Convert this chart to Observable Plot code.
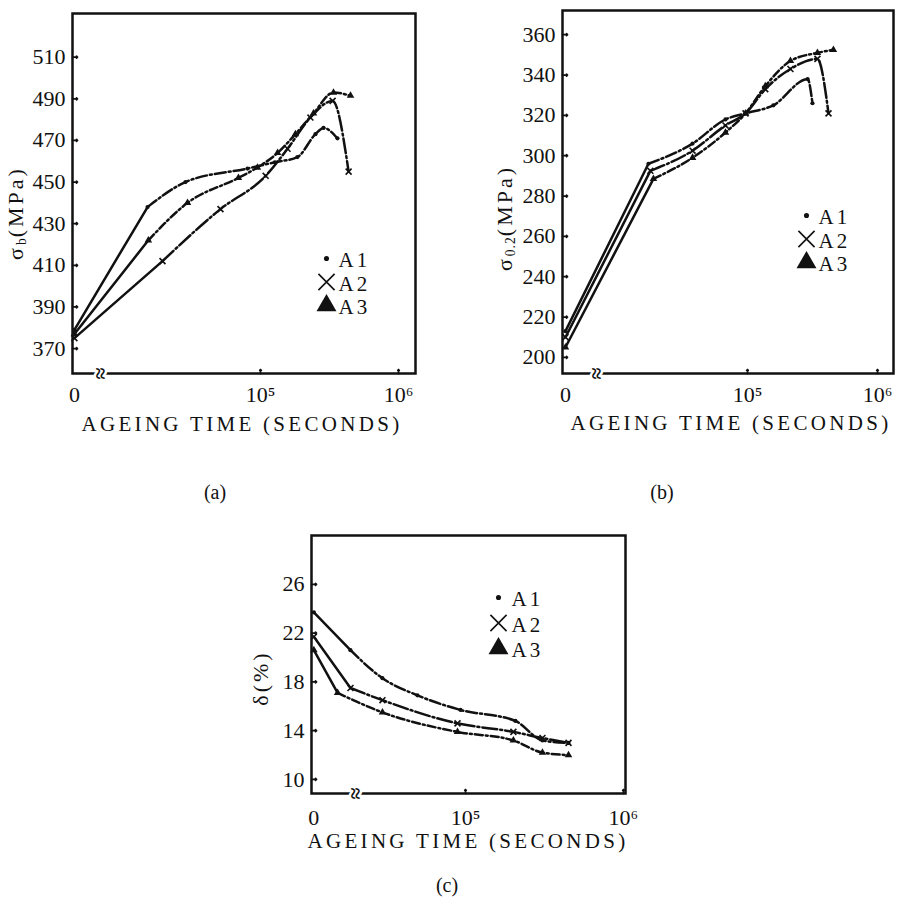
<!DOCTYPE html>
<html><head><meta charset="utf-8">
<script src="https://cdn.jsdelivr.net/npm/d3@7"></script>
<script src="https://cdn.jsdelivr.net/npm/@observablehq/plot@0.6"></script>
<style>
body{margin:0;background:#fff;}
#root{position:relative;width:897px;height:907px;background:#fff;font-family:"Liberation Serif","DejaVu Serif",serif;color:#111;overflow:hidden;}
#root svg text{font-family:"Liberation Serif","DejaVu Serif",serif !important;}
.panel{position:absolute;}
.cap{position:absolute;font-size:20px;transform:translate(-50%,-50%);white-space:nowrap;line-height:1;}
.xt{position:absolute;font-size:21px;letter-spacing:3.3px;transform:translate(-50%,-50%);white-space:nowrap;line-height:1;}
.yt{position:absolute;font-size:22px;letter-spacing:3px;transform:translate(-50%,-50%) rotate(-90deg);white-space:nowrap;line-height:1;}
.yt sub{font-size:0.62em;vertical-align:-0.25em;line-height:0;letter-spacing:1px;}
</style></head><body><div id="root"></div>
<script>
const series = ["A1", "A2", "A3"];
const legendLabels = ["A1", "A2", "A3"];
const xTickLabels = ["0", "10\u2075", "10\u2076"];
const xTitle = "AGEING TIME (SECONDS)";
const captions = ["(a)", "(b)", "(c)"];

// (a) ultimate tensile strength, MPa  (times in seconds)
const timeA1_a = [0, 15200, 28600, 80500, 127000, 185000, 250000, 286000, 361000];
const sigmaB_A1 = [379, 438, 450, 456.5, 459.5, 462, 473, 476, 471];
const timeA2_a = [0, 19500, 51300, 109000, 157000, 230000, 333000, 435000];
const sigmaB_A2 = [375, 412, 437, 453, 466, 481, 489, 455];
const timeA3_a = [0, 15400, 29600, 69200, 95000, 133000, 179000, 242000, 338000, 449000];
const sigmaB_A3 = [377, 422, 440, 452, 457, 464, 473, 483, 493, 491.5];
const yTicks_a = [370, 390, 410, 430, 450, 470, 490, 510];

// (b) yield strength, MPa
const timeA1_b = [0, 17300, 37800, 67700, 96600, 158000, 290000, 316000];
const sigma02_A1 = [213, 296, 306, 318, 321, 325, 338, 326];
const timeA2_b = [0, 17900, 37800, 67700, 96600, 137000, 214000, 345000, 420000];
const sigma02_A2 = [210, 292.5, 302.5, 315, 321, 333, 343, 348, 321];
const timeA3_b = [0, 18900, 37800, 67700, 96600, 137000, 214000, 345000, 458000];
const sigma02_A3 = [205, 288.5, 299, 311.5, 321, 334.5, 347, 351, 352.5];
const yTicks_b = [200, 220, 240, 260, 280, 300, 320, 340, 360];

// (c) elongation, %
const timeA1_c = [0, 18700, 29800, 49600, 93000, 207000, 307000, 449000];
const delta_A1 = [23.7, 20.6, 18.3, 16.9, 15.7, 14.8, 13.2, 13.0];
const timeA2_c = [0, 18700, 29800, 89000, 201000, 307000, 449000];
const delta_A2 = [21.7, 17.5, 16.5, 14.6, 13.9, 13.4, 13.0];
const timeA3_c = [0, 15500, 29800, 89000, 201000, 307000, 449000];
const delta_A3 = [20.6, 17.1, 15.5, 13.9, 13.2, 12.2, 12.0];
const yTicks_c = [10, 14, 18, 22, 26];

const INK = "#111";
const FONT = '"Liberation Serif","DejaVu Serif",serif';
const dashes = {A1: "11,3,2,3", A2: "15,3,2,3", A3: "8,3,2,3"};

function markerMarks(data, s, r, extra) {
  if (s === "A1") return Plot.dot(data, {...extra, symbol: "circle", r: r * 0.75, fill: INK, stroke: null});
  if (s === "A2") return Plot.dot(data, {...extra, symbol: "times", r: r, stroke: INK, strokeWidth: 1.6, fill: null});
  return Plot.dot(data, {...extra, symbol: "triangle", r: r, fill: INK, stroke: null});
}

function makePanel(cfg) {
  const rows = [];
  cfg.lines.forEach(([s, ts, vs]) => ts.forEach((t, i) =>
    rows.push({s, i, x: t === 0 ? cfg.zero : Math.log10(t), v: vs[i]})));
  const marks = [];
  marks.push(Plot.vector(cfg.yTicks, {y: d => d, frameAnchor: "left", rotate: 90, length: 5, anchor: "start", stroke: INK, strokeWidth: 1.7}));
  marks.push(Plot.vector([5, 6], {x: d => d, frameAnchor: "bottom", rotate: 0, length: 4, anchor: "start", stroke: INK, strokeWidth: 1.7}));
  marks.push(Plot.frame({stroke: INK, strokeWidth: 2.5}));
  marks.push(Plot.text([cfg.brk], {x: d => d, frameAnchor: "bottom", text: () => "\u2248", rotate: 90, fontSize: 22, fontWeight: "bold", fill: INK, stroke: "white", strokeWidth: 5, paintOrder: "stroke"}));
  marks.push(Plot.axisX({ticks: [cfg.zero, 5, 6], tickSize: 0, tickPadding: cfg.xPad, fontSize: 22, label: null,
    tickFormat: d => d === 5 ? xTickLabels[1] : d === 6 ? xTickLabels[2] : xTickLabels[0]}));
  marks.push(Plot.axisY({ticks: cfg.yTicks, tickSize: 0, tickPadding: 7, fontSize: 22, label: null}));
  for (const s of series) {
    const d = rows.filter(r => r.s === s);
    marks.push(Plot.line(d.filter(r => r.i <= 1), {x: "x", y: "v", stroke: INK, strokeWidth: 2.5}));
    marks.push(Plot.line(d.filter(r => r.i >= 1), {x: "x", y: "v", stroke: INK, strokeWidth: 2.5, strokeDasharray: dashes[s], curve: "monotone-x"}));
    marks.push(markerMarks(d, s, 2.8, {x: "x", y: "v"}));
  }
  series.forEach((s, i) => {
    const dy = cfg.leg.y0 + i * cfg.leg.step;
    marks.push(markerMarks([s], s, s === "A1" ? 3.4 : 7.4, {frameAnchor: "top-left", dx: cfg.leg.sx, dy}));
    marks.push(Plot.text([legendLabels[i]], {frameAnchor: "top-left", dx: cfg.leg.tx, dy: dy - 6, text: d => d, textAnchor: "start", fontSize: 21, fill: INK}));
  });

  const svg = Plot.plot({
    width: cfg.width, height: cfg.height,
    marginLeft: cfg.m[0], marginRight: cfg.m[1], marginTop: cfg.m[2], marginBottom: cfg.m[3],
    style: {fontFamily: FONT, color: INK, background: "transparent", overflow: "visible"},
    x: {domain: cfg.xDomain},
    y: {domain: cfg.yDomain},
    marks
  });
  svg.querySelectorAll("text").forEach(t => {
    if (legendLabels.includes(t.textContent)) t.style.letterSpacing = "3px";
  });
  svg.classList.add("panel");
  svg.style.left = cfg.left + "px";
  svg.style.top = cfg.top + "px";
  svg.style.position = "absolute";
  return svg;
}

const root = document.getElementById("root");

const panels = [
  {
    left: 0, top: 0, width: 440, height: 440, m: [72, 25, 13, 67],
    xDomain: [3.638, 6.123], yDomain: [358, 531], zero: 3.652, brk: 3.783,
    yTicks: yTicks_a, xPad: 13,
    lines: [["A1", timeA1_a, sigmaB_A1], ["A2", timeA2_a, sigmaB_A2], ["A3", timeA3_a, sigmaB_A3]],
    leg: {sx: 254, tx: 266, y0: 245, step: 23.5},
    xt: [242, 424], yt: [16, 213], yTitle: ["\u03c3", "b", "(MPa)"], cap: [215, 492]
  },
  {
    left: 440, top: 0, width: 457, height: 440, m: [122, 4, 10, 67],
    xDomain: [3.577, 6.123], yDomain: [192, 372], zero: 3.6, brk: 3.777,
    yTicks: yTicks_b, xPad: 13,
    lines: [["A1", timeA1_b, sigma02_A1], ["A2", timeA2_b, sigma02_A2], ["A3", timeA3_b, sigma02_A3]],
    leg: {sx: 244, tx: 256, y0: 205, step: 23.5},
    xt: [731, 423], yt: [505, 218], yTitle: ["\u03c3", "0.2", "(MPa)"], cap: [662, 492]
  },
  {
    left: 230, top: 460, width: 420, height: 400, m: [81, 25, 75, 67],
    xDomain: [4.025, 6.013], yDomain: [8.85, 30.0], zero: 4.04, brk: 4.253,
    yTicks: yTicks_c, xPad: 16,
    lines: [["A1", timeA1_c, delta_A1], ["A2", timeA2_c, delta_A2], ["A3", timeA3_c, delta_A3]],
    leg: {sx: 187, tx: 200, y0: 62, step: 25.5},
    xt: [468, 841], yt: [261, 678], yTitle: ["\u03b4", "", "(%)"], cap: [447, 885]
  }
];

panels.forEach((cfg, k) => {
  root.appendChild(makePanel(cfg));
  const xt = document.createElement("div");
  xt.className = "xt";
  xt.textContent = xTitle;
  xt.style.left = cfg.xt[0] + "px";
  xt.style.top = cfg.xt[1] + "px";
  root.appendChild(xt);
  const yt = document.createElement("div");
  yt.className = "yt";
  yt.appendChild(document.createTextNode(cfg.yTitle[0]));
  if (cfg.yTitle[1]) {
    const sb = document.createElement("sub");
    sb.textContent = cfg.yTitle[1];
    yt.appendChild(sb);
  }
  yt.appendChild(document.createTextNode(cfg.yTitle[2]));
  yt.style.left = cfg.yt[0] + "px";
  yt.style.top = cfg.yt[1] + "px";
  root.appendChild(yt);
  const el = document.createElement("div");
  el.className = "cap";
  el.textContent = captions[k];
  el.style.left = cfg.cap[0] + "px";
  el.style.top = cfg.cap[1] + "px";
  root.appendChild(el);
});
</script></body></html>
